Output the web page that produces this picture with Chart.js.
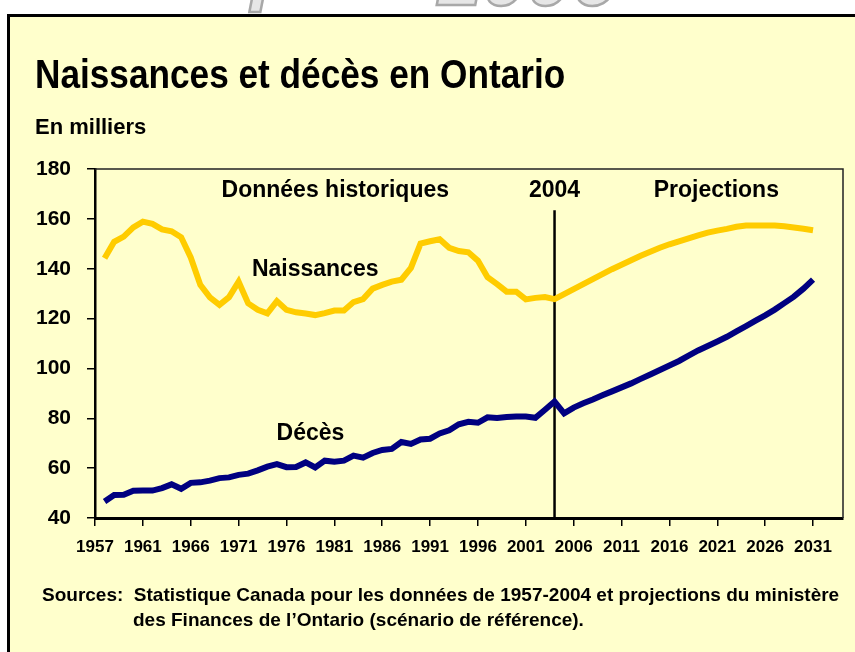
<!DOCTYPE html>
<html><head><meta charset="utf-8">
<script src="https://cdn.jsdelivr.net/npm/chart.js@4.4.1/dist/chart.umd.min.js"></script>
<style>
html,body{margin:0;padding:0;background:#fff;width:855px;height:652px;overflow:hidden;font-family:"Liberation Sans",Arial,sans-serif;}
#box{position:absolute;left:7px;top:14px;width:900px;height:700px;background:#FFFFCC;border:3px solid #000;box-sizing:border-box;}
#wrap{position:absolute;left:0;top:0;width:855px;height:652px;}
.t{position:absolute;font-weight:bold;color:#000;white-space:pre;line-height:1;}
#title{left:35px;top:54px;font-size:40px;transform:scaleX(0.88);transform-origin:0 0;}
#unit{left:35px;top:116px;font-size:22px;}
#src1{left:42px;top:585px;font-size:19px;}
#src2{left:133px;top:610px;font-size:19px;}
.wm{position:absolute;font-size:80px;font-weight:bold;font-style:italic;color:#e6e6e6;-webkit-text-stroke:2.5px #a8a8a8;white-space:pre;line-height:1;}
</style></head><body>
<div class="wm" style="left:-40px;top:-62px;">e</div>
<div class="wm" style="left:248px;top:-55px;">r</div>
<div class="wm" style="left:438px;top:-62px;">2006</div>
<div id="box"></div>
<div id="wrap"><canvas id="c" width="855" height="652"></canvas></div>
<div class="t" id="title">Naissances et décès en Ontario</div>
<div class="t" id="unit">En milliers</div>
<div class="t" id="src1">Sources:  Statistique Canada pour les données de 1957-2004 et projections du ministère</div>
<div class="t" id="src2">des Finances de l’Ontario (scénario de référence).</div>
<script>
const years = [1957,1958,1959,1960,1961,1962,1963,1964,1965,1966,1967,1968,1969,1970,1971,1972,1973,1974,1975,1976,
1977,1978,1979,1980,1981,1982,1983,1984,1985,1986,1987,1988,1989,1990,1991,1992,1993,1994,1995,1996,
1997,1998,1999,2000,2001,2002,2003,2004,2005,2006,2007,2008,2009,2010,2011,2012,2013,2014,2015,2016,
2017,2018,2019,2020,2021,2022,2023,2024,2025,2026,2027,2028,2029,2030,2031];

const naissances = [144.2,150.8,152.9,156.6,158.9,158.0,155.8,155.0,152.6,144.5,133.5,128.5,125.5,128.6,134.8,126.1,123.5,122.1,127.0,123.5,
122.5,122.0,121.4,122.2,123.2,123.2,126.6,127.8,132.0,133.5,134.8,135.6,140.3,150.1,151.0,151.8,148.4,147.1,146.6,143.2,
136.6,133.8,130.8,130.8,127.7,128.3,128.6,127.8,129.8,131.8,133.8,135.8,137.8,139.8,141.6,143.4,145.2,146.8,148.4,149.8,
151.0,152.2,153.4,154.5,155.3,156.0,156.8,157.3,157.3,157.3,157.3,157.0,156.5,156.0,155.4];

const deces = [46.6,49.2,49.3,50.9,51.0,51.0,52.0,53.5,51.7,54.1,54.3,55.0,56.0,56.3,57.3,57.8,59.1,60.6,61.6,60.4,
60.5,62.3,60.3,63.0,62.6,63.0,65.0,64.2,66.1,67.3,67.7,70.5,69.7,71.5,71.8,73.9,75.2,77.6,78.6,78.2,
80.4,80.1,80.5,80.7,80.7,80.2,83.4,86.7,82.0,84.3,86.0,87.5,89.2,90.8,92.4,94.0,95.8,97.6,99.4,101.2,
103.0,105.1,107.2,109.0,110.8,112.7,114.9,117.0,119.2,121.3,123.6,126.2,128.8,132.0,135.6];

const xTickValues = [1956,1961,1966,1971,1976,1981,1986,1991,1996,2001,2006,2011,2016,2021,2026,2031];
const xTickLabels = ['1957','1961','1966','1971','1976','1981','1986','1991','1996','2001','2006','2011','2016','2021','2026','2031'];
const yTicks = [40,60,80,100,120,140,160,180];

const dividerYear = 2004;
const dividerTop = 163.5;

const annotations = [
  {text:'Données historiques', x:1981.1, y:171.2},
  {text:'2004', x:2004, y:171.2},
  {text:'Projections', x:2020.9, y:171.2},
  {text:'Naissances', x:1979.0, y:139.5},
  {text:'Décès', x:1978.5, y:73.7}
];

const FONT = '"Liberation Sans", Arial, sans-serif';

const overlay = {
  id:'overlay',
  beforeDatasetsDraw(chart){
    const {ctx, chartArea:a, scales:{x,y}} = chart;
    ctx.save();
    ctx.strokeStyle = '#222';
    ctx.lineWidth = 1.5;
    ctx.beginPath();
    ctx.moveTo(a.left, a.top);
    ctx.lineTo(a.right, a.top);
    ctx.lineTo(a.right, a.bottom);
    ctx.stroke();
    const px = x.getPixelForValue(dividerYear);
    ctx.strokeStyle = '#000';
    ctx.lineWidth = 2.5;
    ctx.beginPath();
    ctx.moveTo(px, y.getPixelForValue(dividerTop));
    ctx.lineTo(px, a.bottom);
    ctx.stroke();
    ctx.restore();
  },
  afterDatasetsDraw(chart){
    const {ctx, scales:{x,y}} = chart;
    ctx.save();
    ctx.fillStyle = '#000';
    ctx.font = 'bold 23px ' + FONT;
    ctx.textAlign = 'center';
    ctx.textBaseline = 'middle';
    annotations.forEach(an => ctx.fillText(an.text, x.getPixelForValue(an.x), y.getPixelForValue(an.y)));
    ctx.restore();
  }
};

new Chart(document.getElementById('c'), {
  type:'line',
  data:{
    datasets:[
      {label:'Naissances', data:years.map((yr,i)=>({x:yr,y:naissances[i]})), borderColor:'#FFCC00', borderWidth:6, pointRadius:0, tension:0},
      {label:'Décès', data:years.map((yr,i)=>({x:yr,y:deces[i]})), borderColor:'#000080', borderWidth:6, pointRadius:0, tension:0}
    ]
  },
  options:{
    responsive:false,
    animation:false,
    devicePixelRatio:1,
    layout:{padding:{left:0, top:169, right:12, bottom:0}},
    plugins:{legend:{display:false}, tooltip:{enabled:false}, title:{display:false}},
    scales:{
      x:{
        type:'linear', min:1956, max:2034.13,
        afterBuildTicks: s => { s.ticks = xTickValues.map(v=>({value:v})); },
        afterFit: s => { s.height = 652 - 518; },
        ticks:{autoSkip:false, maxRotation:0, color:'#000', padding:11,
          font:{family:FONT, size:17, weight:'bold'},
          callback:(v,i)=>xTickLabels[i]},
        grid:{drawOnChartArea:false, drawTicks:true, tickLength:8, color:'#000', lineWidth:1.5},
        border:{display:true, color:'#000', width:3}
      },
      y:{
        min:40, max:180,
        afterBuildTicks: s => { s.ticks = yTicks.map(v=>({value:v})); },
        afterFit: s => { s.width = 95; },
        ticks:{color:'#000', padding:16, font:{family:FONT, size:21, weight:'bold'}},
        grid:{drawOnChartArea:false, drawTicks:true, tickLength:8, color:'#000', lineWidth:1.5},
        border:{display:true, color:'#000', width:2.5}
      }
    }
  },
  plugins:[overlay]
});
</script>
</body></html>
